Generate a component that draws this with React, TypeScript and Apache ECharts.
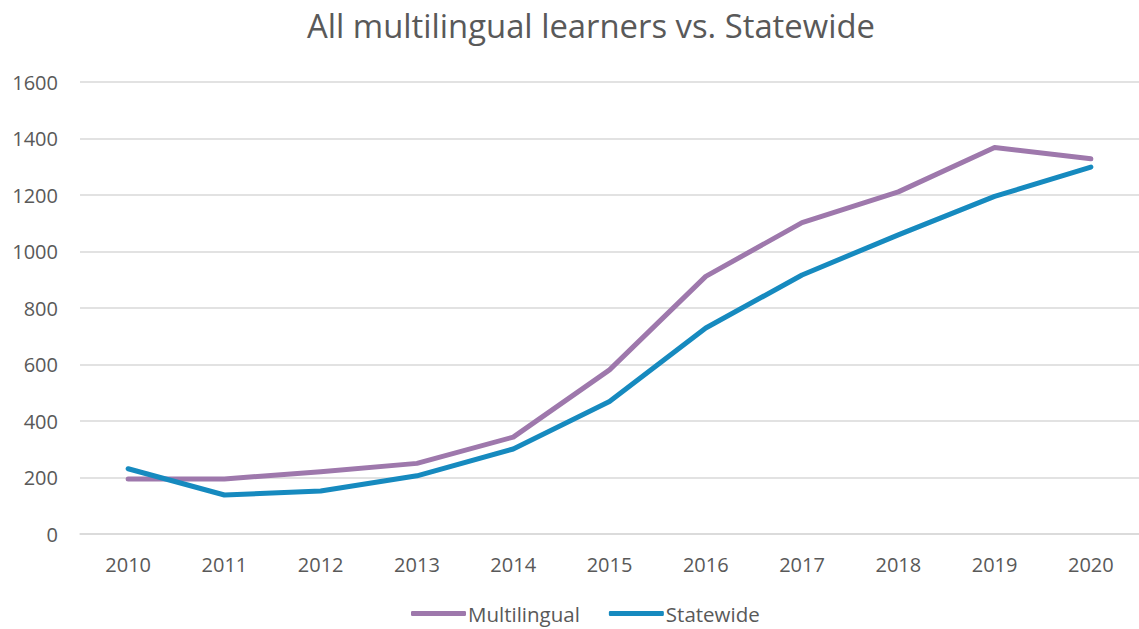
import React, { useEffect, useRef } from "react";
import * as echarts from "echarts";

const years = ["2010", "2011", "2012", "2013", "2014", "2015", "2016", "2017", "2018", "2019", "2020"];
const multilingual = [195, 195, 220, 250, 343, 581, 912, 1102, 1211, 1368, 1328];
const statewide = [231, 138, 152, 206, 301, 469, 729, 917, 1059, 1195, 1299];
const yTicks = { min: 0, max: 1600, interval: 200 };

const FONT = "'Open Sans', 'Liberation Sans', sans-serif";
const TXT = "#595959";

export default function App() {
  const ref = useRef<HTMLDivElement>(null);
  useEffect(() => {
    if (!ref.current) return;
    const chart = echarts.init(ref.current, null, { renderer: "svg" });
    chart.setOption({
      animation: false,
      backgroundColor: "#ffffff",
      title: {
        text: "All multilingual learners vs. Statewide",
        left: 302,
        top: 4,
        textStyle: { fontFamily: FONT, fontSize: 32.8, fontWeight: "normal", color: TXT },
      },
      grid: { left: 80, top: 82, width: 1068, height: 452, containLabel: false },
      legend: {
        bottom: 0,
        left: 406,
        itemWidth: 55,
        itemHeight: 5,
        itemGap: 29,
        icon: "roundRect",
        textStyle: { fontFamily: FONT, fontSize: 20.5, color: TXT, padding: [0, 0, 0, -3] },
        data: ["Multilingual", "Statewide"],
      },
      xAxis: {
        type: "category",
        data: years,
        boundaryGap: true,
        axisLine: { show: true, lineStyle: { color: "#d9d9d9", width: 1.5 } },
        axisTick: { show: false },
        axisLabel: { fontFamily: FONT, fontSize: 20, color: TXT, margin: 20 },
      },
      yAxis: {
        type: "value",
        min: yTicks.min,
        max: yTicks.max,
        interval: yTicks.interval,
        axisLine: { show: false },
        axisTick: { show: false },
        splitLine: { lineStyle: { color: "#d9d9d9", width: 1.5 } },
        axisLabel: {
          fontFamily: FONT,
          fontSize: 20,
          color: TXT,
          margin: 22,
          formatter: (v: number) => String(v),
        },
      },
      series: [
        {
          name: "Multilingual",
          type: "line",
          data: multilingual,
          symbol: "none",
          lineStyle: { color: "#9e78ac", width: 5, cap: "round", join: "round" },
          itemStyle: { color: "#9e78ac" },
        },
        {
          name: "Statewide",
          type: "line",
          data: statewide,
          symbol: "none",
          lineStyle: { color: "#168abf", width: 5, cap: "round", join: "round" },
          itemStyle: { color: "#168abf" },
        },
      ],
    });
    return () => chart.dispose();
  }, []);
  return (
    <div
      ref={ref}
      style={{ position: "fixed", left: 0, top: 0, width: 1139, height: 629, background: "#fff" }}
    />
  );
}
